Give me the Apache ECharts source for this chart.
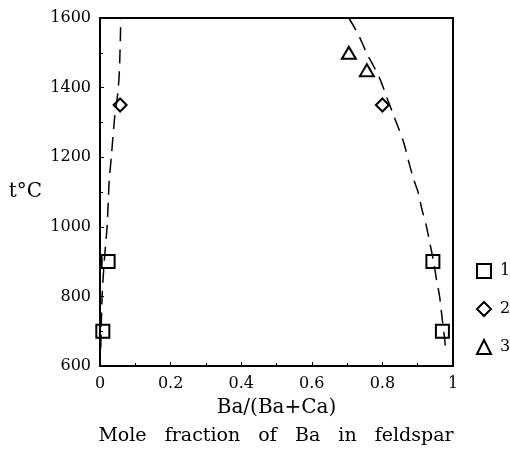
<!DOCTYPE html>
<html>
<head>
<meta charset="utf-8">
<script src="https://cdn.jsdelivr.net/npm/echarts@6/dist/echarts.min.js"></script>
<style>
html,body{margin:0;padding:0;background:#fff;}
#chart{width:510px;height:449px;}
</style>
</head>
<body>
<div id="chart"></div>
<script>
// Series 1 (squares)
var s1X = [0.008, 0.023, 0.943, 0.970];
var s1T = [700, 900, 900, 700];
// Series 2 (diamonds)
var s2X = [0.057, 0.800];
var s2T = [1350, 1350];
// Series 3 (triangles)
var s3X = [0.705, 0.756];
var s3T = [1500, 1450];
// Dashed solvus curves
var leftCurveX = [0.002, 0.006, 0.012, 0.020, 0.026, 0.032, 0.042, 0.050, 0.055, 0.059];
var leftCurveT = [650, 800, 900, 1000, 1130, 1200, 1320, 1380, 1450, 1600];
var rightCurveX = [0.705, 0.733, 0.755, 0.776, 0.795, 0.815, 0.830, 0.847, 0.861, 0.875, 0.889, 0.901, 0.912, 0.925, 0.935, 0.945, 0.953, 0.962, 0.970, 0.976, 0.980];
var rightCurveT = [1600, 1550, 1500, 1460, 1420, 1365, 1325, 1280, 1240, 1185, 1135, 1100, 1050, 1000, 950, 900, 850, 800, 730, 680, 640];
var legendNames = ['1', '2', '3'];
var xTitle = 'Ba/(Ba+Ca)';
var yTitle = 't°C';
var subTitle = 'Mole   fraction   of   Ba   in   feldspar';

function pairs(xs, ys) { return xs.map(function (x, i) { return [x, ys[i]]; }); }

var font = 'DejaVu Serif';
var chart = echarts.init(document.getElementById('chart'), null, {renderer: 'canvas'});
var markerStyle = {color: 'rgba(0,0,0,0)', borderColor: '#000', borderWidth: 2, opacity: 1};
var dash = {color: '#000', width: 1.5, type: [14, 8]};
chart.setOption({
  backgroundColor: '#fff',
  animation: false,
  title: {
    text: subTitle, left: 276, textAlign: 'center', top: 427, padding: 0,
    textStyle: {fontFamily: font, fontSize: 19, fontWeight: 'normal', color: '#000'}
  },
  grid: {left: 100, right: 57, top: 18, bottom: 83, show: true, borderColor: '#000', borderWidth: 2, backgroundColor: 'transparent'},
  legend: {
    orient: 'vertical', left: 471, top: 258, itemWidth: 14, itemHeight: 14, itemGap: 22,
    data: legendNames.map(function (n) { return {name: n, itemStyle: markerStyle}; }),
    textStyle: {fontFamily: font, fontSize: 16, color: '#000', padding: [0, 0, 0, 4]}
  },
  xAxis: {
    type: 'value', min: 0, max: 1, interval: 0.2,
    name: xTitle, nameLocation: 'middle', nameGap: 42,
    nameTextStyle: {fontFamily: font, fontSize: 20, color: '#000', verticalAlign: 'middle'},
    axisLine: {lineStyle: {color: '#000', width: 2}},
    axisTick: {inside: true, length: 4, lineStyle: {color: '#000'}},
    minorTick: {show: true, splitNumber: 2, length: 3, lineStyle: {color: '#000'}},
    axisLabel: {fontFamily: font, fontSize: 16, color: '#000', margin: 10, formatter: function (v) { return String(v); }},
    splitLine: {show: false}
  },
  yAxis: {
    type: 'value', min: 600, max: 1600, interval: 200,
    name: yTitle, nameLocation: 'middle', nameGap: 58, nameRotate: 0,
    nameTextStyle: {fontFamily: font, fontSize: 20, color: '#000', align: 'right', verticalAlign: 'middle'},
    axisLine: {lineStyle: {color: '#000', width: 2}},
    axisTick: {inside: true, length: 4, lineStyle: {color: '#000'}},
    minorTick: {show: true, splitNumber: 2, length: 3, lineStyle: {color: '#000'}},
    axisLabel: {fontFamily: font, fontSize: 16, color: '#000', margin: 9, formatter: function (v) { return String(v); }},
    splitLine: {show: false}
  },
  series: [
    {type: 'line', data: pairs(leftCurveX, leftCurveT), smooth: 0.3, showSymbol: false, symbol: 'none', silent: true, lineStyle: dash, z: 1},
    {type: 'line', data: pairs(rightCurveX, rightCurveT), smooth: 0.3, showSymbol: false, symbol: 'none', silent: true, lineStyle: dash, z: 1},
    {name: legendNames[0], type: 'scatter', symbol: 'rect', symbolSize: 13, data: pairs(s1X, s1T), itemStyle: markerStyle, z: 3},
    {name: legendNames[1], type: 'scatter', symbol: 'diamond', symbolSize: [13, 13], data: pairs(s2X, s2T), itemStyle: markerStyle, z: 3},
    {name: legendNames[2], type: 'scatter', symbol: 'triangle', symbolSize: [14, 12], data: pairs(s3X, s3T), itemStyle: markerStyle, z: 3}
  ]
});
</script>
</body>
</html>
